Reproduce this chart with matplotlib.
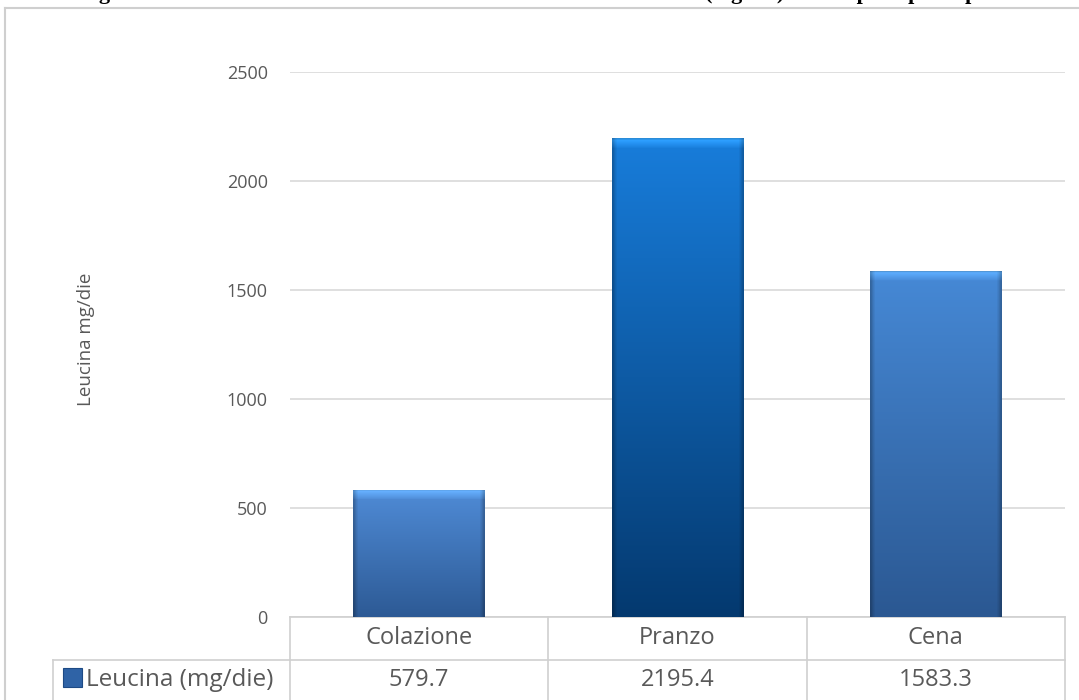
import numpy as np
import matplotlib
matplotlib.use('Agg')
import matplotlib.pyplot as plt
import matplotlib.transforms as mtransforms
from matplotlib.colors import to_rgb
from matplotlib.patches import Rectangle

pasti = ['Colazione', 'Pranzo', 'Cena']
leucina = [579.7, 2195.4, 1583.3]
serie = 'Leucina (mg/die)'
ylabel = 'Leucina mg/die'
titolo_a = 'Figura 4. Distribuzione del contenuto medio di leucina introdotto'
titolo_b = '(mg/die) nei tre pasti principali'

# colori (alto, basso) per ogni barra
top_cols = ['#4f8bd6', '#187ddb', '#4689d6']
bot_cols = ['#2d5a95', '#04396f', '#2b5892']

plt.rcParams['font.family'] = ['Open Sans', 'DejaVu Sans']
grey = '#595959'
line = '#d0d0d0'

fig = plt.figure(figsize=(10.79, 7), dpi=100)
ax = fig.add_axes([290/1079, 1 - 617/700, 775/1079, (617 - 72)/700])

x = np.arange(len(pasti))
w = 0.51
bars = ax.bar(x, leucina, width=w, color='none', edgecolor='none', zorder=3)

ax.set_xlim(-0.5, len(pasti) - 0.5)
ax.set_ylim(0, 2500)
ax_h_px = 617 - 72

# riempimento a gradiente dentro ogni barra
for i, b in enumerate(bars):
    x0, y0 = b.get_x(), b.get_y()
    bw, bh = b.get_width(), b.get_height()
    n = 300
    t = np.linspace(0, 1, n)[:, None, None]
    c1 = np.array(to_rgb(top_cols[i]))
    c2 = np.array(to_rgb(bot_cols[i]))
    grad = c1 * (1 - t) + c2 * t
    grad = np.repeat(grad, 60, axis=1)
    # bordi laterali piu scuri
    grad[:, :1] *= 0.75
    grad[:, -1:] *= 0.75
    grad[:, 1:2] *= 0.9
    grad[:, -2:-1] *= 0.9
    # bisello chiaro in alto (circa 9 px)
    px_h = bh / 2500 * ax_h_px
    k = max(2, int(round(n * 9 / px_h)))
    fade = np.linspace(1.0, 0.2, k)[:, None, None]
    grad[:k] = np.clip(grad[:k] + np.array([0.10, 0.16, 0.18]) * fade, 0, 1)
    grad[0] = grad[0] * 0.85
    ax.imshow(grad, extent=(x0, x0 + bw, y0, y0 + bh), aspect='auto',
              zorder=3, interpolation='bilinear')

ax.set_yticks(np.arange(0, 2501, 500))
ax.yaxis.grid(True, color='#d9d9d9', linewidth=1.2)
ax.set_axisbelow(True)
ax.tick_params(axis='y', length=0, pad=16, labelsize=13, labelcolor=grey)
ax.tick_params(axis='x', length=0, labelbottom=False)
for s in ax.spines.values():
    s.set_visible(False)

fig.text(86/1079, 1 - 339/700, ylabel, rotation=90, ha='center', va='center',
         fontsize=13.5, color=grey)

# tabella dati sotto il grafico
tr = mtransforms.blended_transform_factory(ax.transData, fig.transFigure)
y_top = 1 - 617/700
y_mid = 1 - 660/700
y_bot = 0.0
for xb in np.arange(-0.5, len(pasti), 1.0):
    ax.plot([xb, xb], [y_top, y_bot], transform=tr, color=line, lw=1.2, clip_on=False)
ax.plot([-0.5, len(pasti) - 0.5], [y_top, y_top], transform=tr, color=line, lw=1.2, clip_on=False)
ax.plot([-0.5, len(pasti) - 0.5], [y_mid, y_mid], transform=tr, color=line, lw=1.2, clip_on=False)
fig.add_artist(plt.Line2D([53/1079, 290/1079], [y_mid, y_mid], color=line, lw=1.2))
fig.add_artist(plt.Line2D([53/1079, 53/1079], [y_mid, y_bot], color=line, lw=1.2))

for i, p in enumerate(pasti):
    ax.text(i, 1 - 638/700, p, transform=tr, ha='center', va='center',
            fontsize=17, color=grey)
    ax.text(i, 1 - 680/700, f'{leucina[i]:.1f}', transform=tr, ha='center',
            va='center', fontsize=17, color=grey)

fig.add_artist(Rectangle((63/1079, 1 - 687/700), 19/1079, 19/700,
                         facecolor='#2f63a6', edgecolor='#1d4a85', lw=0.8))
fig.text(86/1079, 1 - 680/700, serie, ha='left', va='center', fontsize=17.5, color=grey)

# cornice esterna del grafico
fig.add_artist(plt.Line2D([5/1079, 1], [1 - 8/700, 1 - 8/700], color='#cfcfcf', lw=1.5))
fig.add_artist(plt.Line2D([5/1079, 5/1079], [0, 1 - 8/700], color='#cfcfcf', lw=1.5))

# titolo del documento, tagliato in alto come nell'originale
fig.text(698/1079, 1 + 0.5/700, titolo_a, ha='right', va='baseline', fontsize=16,
         fontweight='bold', family='Liberation Serif', color='black')
fig.text(705/1079, 1 + 0.5/700, titolo_b, ha='left', va='baseline', fontsize=16,
         fontweight='bold', family='Liberation Serif', color='black')

fig.savefig('out.png', dpi=100)
